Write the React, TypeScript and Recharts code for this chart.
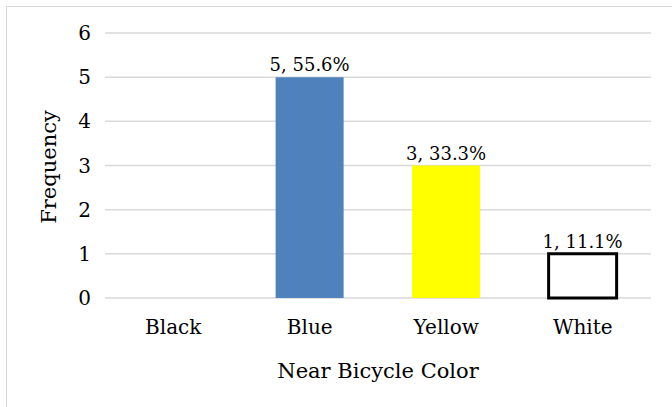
import { BarChart, Bar, XAxis, YAxis, CartesianGrid, LabelList, Cell } from 'recharts';

const colors = ['Black', 'Blue', 'Yellow', 'White'];
const frequency = [0, 5, 3, 1];
const percentLabels = ['0.0%', '55.6%', '33.3%', '11.1%'];
const yTicks = [0, 1, 2, 3, 4, 5, 6];
const fills = ['#000000', '#4F81BD', '#FFFF00', '#FFFFFF'];
const strokes = ['none', 'none', 'none', '#000000'];

const data = colors.map((c, i) => ({
  name: c,
  value: frequency[i],
  label: frequency[i] > 0 ? `${frequency[i]}, ${percentLabels[i]}` : '',
}));

const FONT = '"DejaVu Serif", serif';

function BarLabel(props: any) {
  const { x, y, width, value } = props;
  if (!value) return null;
  return (
    <text x={x + width / 2} y={y - 6} textAnchor="middle" fontSize={18} fontFamily={FONT} fill="#000">
      {value}
    </text>
  );
}

export default function App() {
  return (
    <div style={{ position: 'absolute', left: 0, top: 0, width: 672, height: 407, background: '#fff', overflow: 'hidden' }}>
      <div style={{ position: 'absolute', left: 6, top: 6, width: 680, height: 420, border: '1px solid #d9d9d9' }} />
      <BarChart
        width={672}
        height={407}
        data={data}
        barCategoryGap="25%"
        margin={{ top: 33, right: 21, bottom: 19, left: 45 }}
        style={{ position: 'absolute', left: 0, top: 0 }}
      >
        <CartesianGrid vertical={false} stroke="#d9d9d9" strokeWidth={1.5} />
        <XAxis
          dataKey="name"
          axisLine={false}
          tickLine={false}
          tickSize={8}
          tickMargin={14}
          height={90}
          tick={{ fontSize: 20, fontFamily: FONT, fill: '#000' }}
          label={{ value: 'Near Bicycle Color', position: 'insideBottom', offset: 10, fontSize: 21, fontFamily: FONT, fill: '#000' }}
        />
        <YAxis
          width={60}
          domain={[0, 6]}
          ticks={yTicks}
          axisLine={false}
          tickLine={false}
          tickSize={8}
          tickMargin={6}
          tick={{ fontSize: 20, fontFamily: FONT, fill: '#000' }}
          label={{
            content: () => (
              <text transform="translate(56,167) rotate(-90)" textAnchor="middle" fontSize={21} fontFamily={FONT} fill="#000">
                Frequency
              </text>
            ),
          }}
        />
        <Bar dataKey="value" isAnimationActive={false}>
          {data.map((d, i) => (
            <Cell key={d.name} fill={fills[i]} stroke={strokes[i]} strokeWidth={3} />
          ))}
          <LabelList dataKey="label" content={<BarLabel />} />
        </Bar>
      </BarChart>
    </div>
  );
}
